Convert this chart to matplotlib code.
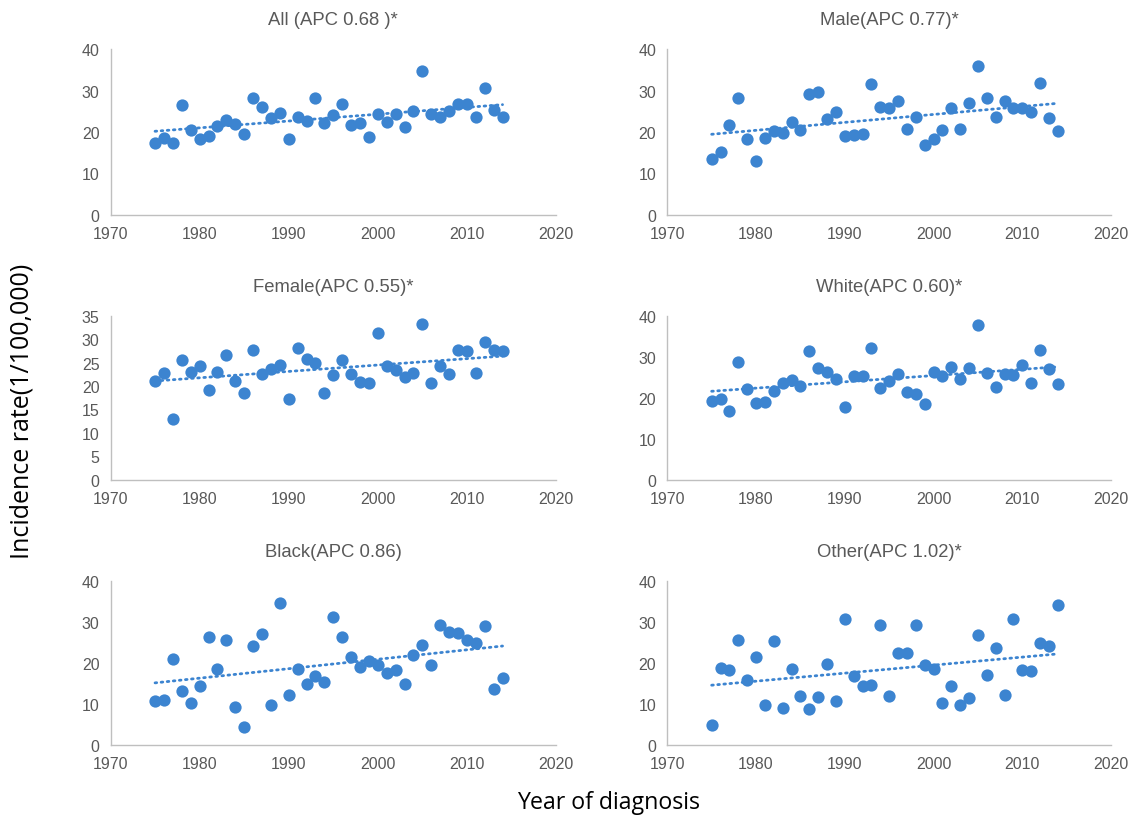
import matplotlib
matplotlib.use("Agg")
import matplotlib.pyplot as plt
import numpy as np

years = np.arange(1975, 2015)

all_rate = [17.3, 18.6, 17.4, 26.6, 20.5, 18.3, 19.0, 21.4, 22.9, 21.9,
            19.4, 28.3, 26.0, 23.4, 24.5, 18.3, 23.6, 22.6, 28.1, 22.2,
            24.0, 26.7, 21.7, 22.1, 18.7, 24.4, 22.4, 24.4, 21.3, 25.0,
            34.7, 24.4, 23.7, 25.0, 26.8, 26.7, 23.6, 30.6, 25.3, 23.6]
male_rate = [13.6, 15.1, 21.7, 28.1, 18.3, 13.0, 18.6, 20.2, 19.7, 22.5,
             20.4, 29.1, 29.7, 23.2, 24.7, 19.1, 19.3, 19.5, 31.5, 26.1,
             25.7, 27.5, 20.8, 23.6, 16.9, 18.3, 20.6, 25.7, 20.8, 27.0,
             35.9, 28.1, 23.6, 27.4, 25.8, 25.7, 24.9, 31.9, 23.4, 20.2]
female_rate = [21.0, 22.8, 13.0, 25.5, 22.9, 24.2, 19.1, 23.0, 26.6, 21.1,
               18.4, 27.7, 22.5, 23.6, 24.5, 17.2, 28.2, 25.8, 24.8, 18.4,
               22.4, 25.5, 22.5, 20.8, 20.6, 31.3, 24.2, 23.5, 21.9, 22.7,
               33.3, 20.6, 24.3, 22.5, 27.7, 27.5, 22.7, 29.4, 27.7, 27.5]
white_rate = [19.2, 19.8, 16.8, 28.8, 22.1, 18.6, 18.9, 21.6, 23.6, 24.4,
              22.8, 31.4, 27.3, 26.3, 24.6, 17.8, 25.3, 25.3, 32.1, 22.3,
              24.0, 25.9, 21.5, 21.0, 18.4, 26.3, 25.4, 27.4, 24.5, 27.2,
              37.8, 26.1, 22.7, 25.7, 25.6, 28.0, 23.6, 31.7, 27.0, 23.4]
black_rate = [10.6, 10.9, 20.9, 13.0, 10.1, 14.3, 26.3, 18.5, 25.6, 9.2,
              4.2, 24.0, 27.0, 9.6, 34.6, 12.2, 18.4, 14.8, 16.7, 15.2,
              31.2, 26.3, 21.4, 19.0, 20.3, 19.4, 17.6, 18.2, 14.8, 22.0,
              24.2, 19.4, 29.1, 27.6, 27.2, 25.5, 24.9, 28.9, 13.5, 16.3]
other_rate = [4.7, 18.7, 18.1, 25.6, 15.8, 21.3, 9.8, 25.2, 9.0, 18.5,
              12.0, 8.7, 11.7, 19.8, 10.7, 30.7, 16.8, 14.2, 14.5, 29.1,
              12.0, 22.3, 22.3, 29.1, 19.4, 18.5, 10.2, 14.3, 9.8, 11.3,
              26.7, 17.0, 23.5, 12.1, 30.7, 18.3, 17.9, 24.8, 24.0, 34.1]

titles = ["All (APC 0.68 )*", "Male(APC 0.77)*", "Female(APC 0.55)*",
          "White(APC 0.60)*", "Black(APC 0.86)", "Other(APC 1.02)*"]
series = [all_rate, male_rate, female_rate, white_rate, black_rate, other_rate]
y_max = [40, 40, 35, 40, 40, 40]
y_step = [10, 10, 5, 10, 10, 10]

BLUE = "#3C84D0"
GREY = "#595959"
W, H = 1135, 820

plt.rcParams["font.family"] = ["Liberation Sans", "DejaVu Sans"]

# axes boxes in pixels: (left, right, bottom, top)
cols = [(110.5, 556), (667.3, 1111)]
rows = [(216, 50), (480.7, 316.7), (745.7, 581.7)]

fig = plt.figure(figsize=(W / 100, H / 100), dpi=100)

for i, (title, vals) in enumerate(zip(titles, series)):
    (x0, x1), (yb, yt) = cols[i % 2], rows[i // 2]
    ax = fig.add_axes([x0 / W, 1 - yb / H, (x1 - x0) / W, (yb - yt) / H])
    vals = np.array(vals)
    ax.scatter(years, vals, s=78, color=BLUE, zorder=3, linewidths=0)
    slope, icept = np.polyfit(years, vals, 1)
    ax.plot(years, slope * years + icept, color=BLUE, lw=2.0,
            linestyle=(0, (0.6, 1.6)), dash_capstyle="round", zorder=2)
    ax.set_xlim(1970, 2020)
    ax.set_ylim(0, y_max[i])
    ax.set_xticks(np.arange(1970, 2021, 10))
    ax.set_yticks(np.arange(0, y_max[i] + 1, y_step[i]))
    ax.tick_params(length=0, labelsize=11.5, labelcolor=GREY, pad=8)
    for side in ("top", "right"):
        ax.spines[side].set_visible(False)
    for side in ("left", "bottom"):
        ax.spines[side].set_color("#BFBFBF")
        ax.spines[side].set_linewidth(1.0)
    ax.set_title(title, fontsize=13.3, color=GREY, pad=18)

fig.text(22 / W, 1 - 411 / H, "Incidence rate(1/100,000)", rotation=90,
         ha="center", va="center", fontsize=18, family="Open Sans")
fig.text(609 / W, 1 - 803 / H, "Year of diagnosis", ha="center",
         va="center", fontsize=16.7, family="Open Sans")

fig.savefig("out.png", dpi=100)
